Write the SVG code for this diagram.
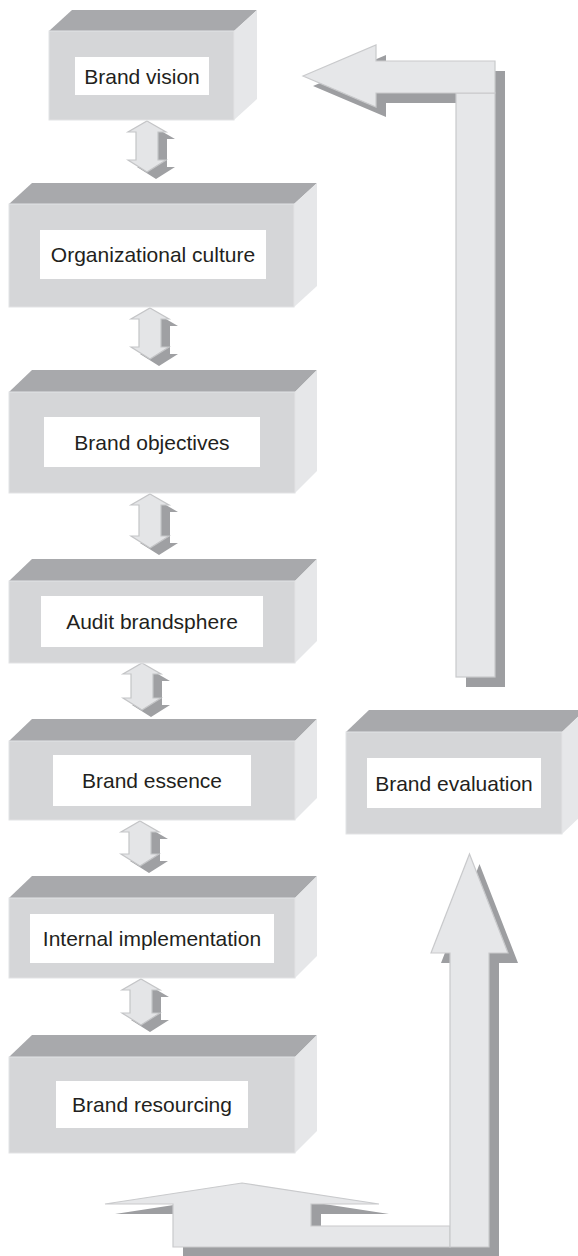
<svg xmlns="http://www.w3.org/2000/svg" width="578" height="1256" viewBox="0 0 578 1256">
<style>
.front{fill:#d5d6d8;stroke:#e2e3e5;stroke-width:1}
.top{fill:#a8a9ac}
.side{fill:#e6e7e9}
.lbl{fill:#ffffff}
.t{font-family:"Liberation Sans",Arial,sans-serif;font-size:21px;fill:#231f20;text-anchor:middle}
.big{fill:#e6e7e9;stroke:#c9cacc;stroke-width:1.2}
.bigsh{fill:#9d9ea1}
.sm{fill:#e4e5e7;stroke:#c4c5c7;stroke-width:1.2}
.smsh{fill:#9fa0a3}
</style>
<defs>
<polygon id="dbl" points="0,0 19,11 11,11 11,-12 19,-12 0,0"/>
</defs>
<rect width="578" height="1256" fill="#ffffff"/>

<g id="connectors">
  <!-- feedback arrow top right -->
  <g transform="translate(10,10)">
    <polygon class="bigsh" points="303,76 376,45 376,61 495,61 495,93 376,93 376,107"/>
    <rect class="bigsh" x="456" y="61" width="39" height="616"/>
  </g>
  <rect class="big" x="456" y="93" width="39" height="584"/>
  <polygon class="big" points="303,76 376,45 376,61 495,61 495,93 376,93 376,107"/>

  <!-- bottom arrow -->
  <g transform="translate(10,10)">
    <polygon class="bigsh" points="242,1183 379,1204 311,1204 311,1226 450,1226 450,1247 173,1247 173,1204 105,1204"/>
    <polygon class="bigsh" points="469.5,854 508,953 489,953 489,1247 450,1247 450,953 431,953"/>
  </g>
  <polygon class="big" points="242,1183 379,1204 311,1204 311,1226 450,1226 450,1247 173,1247 173,1204 105,1204"/>
  <polygon class="big" points="469.5,854 508,953 489,953 489,1247 450,1247 450,953 431,953"/>

  <!-- small double arrows -->
  <polygon class="smsh" transform="translate(9,7)" points="147,121 166,132 158,132 158,160 166,160 147,172 128,160 136,160 136,132 128,132"/>
  <polygon class="sm" points="147,121 166,132 158,132 158,160 166,160 147,172 128,160 136,160 136,132 128,132"/>

  <polygon class="smsh" transform="translate(9,7)" points="150,308 169,319 161,319 161,347 169,347 150,359 131,347 139,347 139,319 131,319"/>
  <polygon class="sm" points="150,308 169,319 161,319 161,347 169,347 150,359 131,347 139,347 139,319 131,319"/>

  <polygon class="smsh" transform="translate(9,7)" points="150,494 169,505 161,505 161,536 169,536 150,548 131,536 139,536 139,505 131,505"/>
  <polygon class="sm" points="150,494 169,505 161,505 161,536 169,536 150,548 131,536 139,536 139,505 131,505"/>

  <polygon class="smsh" transform="translate(9,7)" points="142,663 161,674 153,674 153,698 161,698 142,710 123,698 131,698 131,674 123,674"/>
  <polygon class="sm" points="142,663 161,674 153,674 153,698 161,698 142,710 123,698 131,698 131,674 123,674"/>

  <polygon class="smsh" transform="translate(9,7)" points="140,821 159,832 151,832 151,854 159,854 140,866 121,854 129,854 129,832 121,832"/>
  <polygon class="sm" points="140,821 159,832 151,832 151,854 159,854 140,866 121,854 129,854 129,832 121,832"/>

  <polygon class="smsh" transform="translate(9,7)" points="141,979 160,990 152,990 152,1013 160,1013 141,1025 122,1013 130,1013 130,990 122,990"/>
  <polygon class="sm" points="141,979 160,990 152,990 152,1013 160,1013 141,1025 122,1013 130,1013 130,990 122,990"/>
</g>

<g id="brand-vision">
  <polygon class="top" points="49,31 72,10 257,10 234,31"/>
  <polygon class="side" points="234,31 257,10 257,99 234,120"/>
  <rect class="front" x="49" y="31" width="185" height="89"/>
  <rect class="lbl" x="75" y="57" width="134" height="38"/>
  <text class="t" x="142" y="83.5">Brand vision</text>
</g>

<g id="organizational-culture">
  <polygon class="top" points="9,204 32,183 317,183 294,204"/>
  <polygon class="side" points="294,204 317,183 317,286 294,307"/>
  <rect class="front" x="9" y="204" width="285" height="103"/>
  <rect class="lbl" x="40" y="230" width="226" height="49"/>
  <text class="t" x="153" y="262">Organizational culture</text>
</g>

<g id="brand-objectives">
  <polygon class="top" points="9,392 32,370 317,370 295,392"/>
  <polygon class="side" points="295,392 317,370 317,471 295,493"/>
  <rect class="front" x="9" y="392" width="286" height="101"/>
  <rect class="lbl" x="44" y="417" width="216" height="50"/>
  <text class="t" x="152" y="449.5">Brand objectives</text>
</g>

<g id="audit-brandsphere">
  <polygon class="top" points="9,581 32,559 317,559 295,581"/>
  <polygon class="side" points="295,581 317,559 317,641 295,663"/>
  <rect class="front" x="9" y="581" width="286" height="82"/>
  <rect class="lbl" x="41" y="596" width="222" height="51"/>
  <text class="t" x="152" y="629">Audit brandsphere</text>
</g>

<g id="brand-essence">
  <polygon class="top" points="9,741 32,719 317,719 295,741"/>
  <polygon class="side" points="295,741 317,719 317,798 295,820"/>
  <rect class="front" x="9" y="741" width="286" height="79"/>
  <rect class="lbl" x="53" y="755" width="198" height="51"/>
  <text class="t" x="152" y="788">Brand essence</text>
</g>

<g id="internal-implementation">
  <polygon class="top" points="9,898 32,876 317,876 295,898"/>
  <polygon class="side" points="295,898 317,876 317,956 295,978"/>
  <rect class="front" x="9" y="898" width="286" height="80"/>
  <rect class="lbl" x="30" y="914" width="244" height="49"/>
  <text class="t" x="152" y="946">Internal implementation</text>
</g>

<g id="brand-resourcing">
  <polygon class="top" points="9,1057 32,1035 317,1035 295,1057"/>
  <polygon class="side" points="295,1057 317,1035 317,1131 295,1153"/>
  <rect class="front" x="9" y="1057" width="286" height="96"/>
  <rect class="lbl" x="56" y="1081" width="192" height="47"/>
  <text class="t" x="152" y="1112">Brand resourcing</text>
</g>

<g id="brand-evaluation">
  <polygon class="top" points="346,732 369,710 585,710 562,732"/>
  <polygon class="side" points="562,732 585,710 585,812 562,834"/>
  <rect class="front" x="346" y="732" width="216" height="102"/>
  <rect class="lbl" x="367" y="758" width="174" height="50"/>
  <text class="t" x="454" y="790.5">Brand evaluation</text>
</g>
</svg>
